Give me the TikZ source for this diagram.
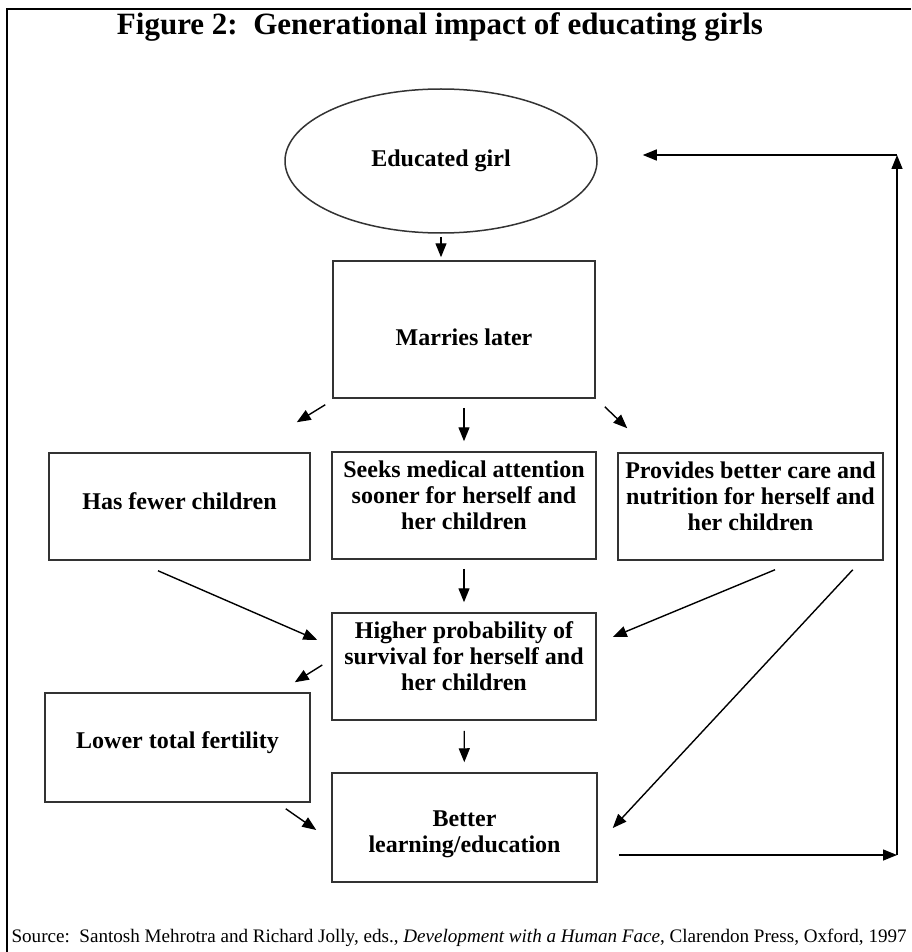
\documentclass[tikz,border=0pt]{standalone}
\usepackage{fontspec}
\setmainfont{Liberation Serif}
\usetikzlibrary{shapes.geometric,arrows.meta}

\begin{document}
\begin{tikzpicture}[x=1pt,y=-1pt,
  box/.style={draw=black!80, line width=1.5pt, rectangle, align=center, inner sep=0pt,
    font=\bfseries\fontsize{24}{26}\selectfont},
  lifttext/.style={execute at end node={\rule[-#1]{0pt}{0pt}}},
  arr/.style={draw, line width=1.4pt, -{Triangle[length=14pt,width=11pt]}}]
\useasboundingbox (0,0) rectangle (911,952);
\path[draw, line width=2.5pt] (7,952) -- (7,9) -- (911,9);
\node[anchor=base, font=\bfseries\fontsize{31}{32}\selectfont] (title) at (440,35) {Figure 2:\ \ Generational impact of educating girls};
\node[box, ellipse, minimum width=312pt, minimum height=144pt] (girl) at (441,161) {Educated girl};
\node[box, minimum width=262pt, minimum height=137pt] (marry) at (464,329.5) {\rule{0pt}{32pt}Marries later};
\node[box, lifttext=10pt, minimum width=261pt, minimum height=107pt] (fewer) at (179.5,506.5) {Has fewer children};
\node[box, lifttext=20pt, minimum width=264pt, minimum height=107pt] (seek) at (464,505.5) {Seeks medical attention\\sooner for herself and\\her children};
\node[box, lifttext=20pt, minimum width=265pt, minimum height=107pt] (care) at (750.5,506.5) {Provides better care and\\nutrition for herself and\\her children};
\node[box, lifttext=20pt, minimum width=264pt, minimum height=107pt] (survive) at (464,666.5) {Higher probability of\\survival for herself and\\her children};
\node[box, lifttext=15pt, minimum width=265pt, minimum height=109pt] (fertility) at (177.5,747.5) {Lower total fertility};
\node[box, minimum width=265pt, minimum height=109pt] (learn) at (464.5,827.5) {\rule{0pt}{30pt}Better\\learning/education};
\node[anchor=west, font=\fontsize{19.1}{22}\selectfont] (source) at (8,938) {Source:\ \ Santosh Mehrotra and Richard Jolly, eds., \textit{Development with a Human Face}, Clarendon Press, Oxford, 1997};
\coordinate (low) at (897,855);
\coordinate (high) at (897,155);
% downward arrows
\path[arr, shorten <=3pt, shorten >=3pt] (girl.south) -- (girl.south |- marry.north);
\path[arr, shorten <=9pt, shorten >=10pt] (marry) -- (seek);
\path[arr] ([shift={(-7,6)}]marry.south west) -- ([shift={(-14,-30)}]fewer.north east);
\path[arr] ([shift={(9,8)}]marry.south east) -- ([shift={(10,-24)}]care.north west);
\path[arr, shorten <=9pt, shorten >=10pt] (seek) -- (survive);
\path[arr] ([shift={(-21.5,10)}]fewer.south) -- ([shift={(-14,-26.5)}]survive.west);
\path[arr] ([shift={(24.5,9)}]care.south) -- ([shift={(16,-29.5)}]survive.east);
\path[arr] ([shift={(-31,9)}]care.south east) -- ([shift={(15,0.5)}]learn.east);
\path[arr] ([shift={(-9,-1.5)}]survive.west) -- ([shift={(-16,-10)}]fertility.north east);
\path[arr, shorten <=10pt, shorten >=10pt] (survive) -- (learn);
\path[arr] ([shift={(-25,6)}]fertility.south east) -- ([shift={(-15,2.5)}]learn.west);
% feedback loop
\path[arr] ([shift={(21,27.5)}]learn.east) -- (low);
\path[arr] (low) -- (high);
\path[arr, shorten >=45pt] (high) -- (high -| girl.east);
\end{tikzpicture}
\end{document}
